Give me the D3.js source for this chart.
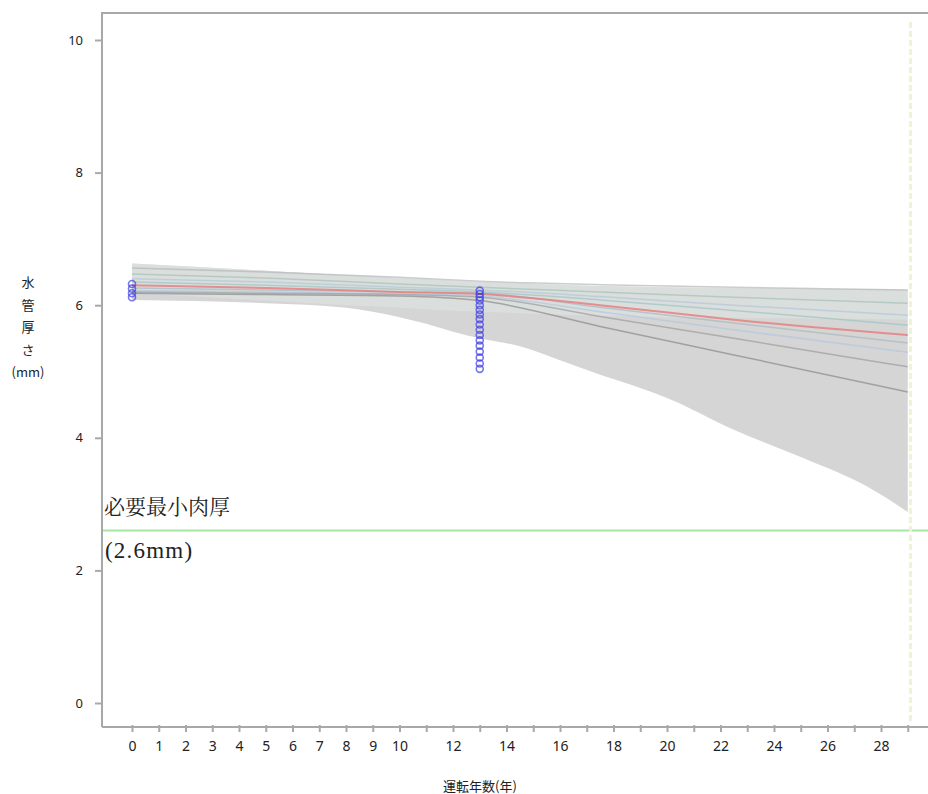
<!DOCTYPE html>
<html><head><meta charset="utf-8">
<script src="https://cdn.jsdelivr.net/npm/d3@7/dist/d3.min.js"></script>
<style>body{margin:0;background:#fff}svg{display:block}</style>
</head><body>
<svg id="c" width="928" height="794"></svg>
<script>
// ---- data ----
const xTickValues = d3.range(0, 30);
const xTickLabels = [0,1,2,3,4,5,6,7,8,9,10,12,14,16,18,20,22,24,26,28];
const yTickValues = [0,2,4,6,8,10];
const obsYear0 = 0;
const obsValues0 = [6.32, 6.25, 6.18, 6.12];
const obsYear13 = 13;
const obsValues13 = [6.22,6.17,6.12,6.07,6.0,5.93,5.86,5.79,5.71,5.63,5.55,5.47,5.39,5.3,5.21,5.12,5.04];
const bandYears = [0, 5, 8, 10, 11, 12, 13, 14.5, 16, 17.5, 19, 20, 22.5, 25, 27.5, 29];
const bandUpper = [6.63, 6.52, 6.45, 6.41, 6.39, 6.37, 6.35, 6.33, 6.31, 6.29, 6.28, 6.27, 6.26, 6.25, 6.24, 6.23];
const bandLower = [6.08, 6.03, 5.96, 5.82, 5.72, 5.6, 5.5, 5.38, 5.17, 4.95, 4.75, 4.6, 4.12, 3.71, 3.26, 2.88];
const lineYears = [0, 5, 10, 13, 17.5, 22.5, 29];
const medianLine = [6.3, 6.26, 6.2, 6.17, 6.0, 5.78, 5.55];
const fanLines = [
  {v:[6.56,6.5,6.42,6.36,6.31,6.27,6.23], c:"#b4b8b8"},
  {v:[6.47,6.41,6.32,6.27,6.2,6.12,6.03], c:"#a6c2b6"},
  {v:[6.4,6.35,6.27,6.23,6.13,6.0,5.85], c:"#b0c8d8"},
  {v:[6.35,6.3,6.24,6.2,6.08,5.92,5.70], c:"#9cc4c0"},
  {v:[6.26,6.23,6.2,6.18,5.97,5.73,5.43], c:"#a8b8c0"},
  {v:[6.22,6.2,6.17,6.14,5.9,5.63,5.29], c:"#b0c8e0"},
  {v:[6.2,6.18,6.16,6.12,5.83,5.5,5.07], c:"#9c9c9c"},
  {v:[6.18,6.16,6.14,6.07,5.68,5.25,4.69], c:"#8a8a8a"}
];
const minThickness = 2.6;
const yLabelChars = ["水","管","厚","さ","(mm)"];
const xTitle = "運転年数(年)";
const noteLine1 = "必要最小肉厚";
const noteLine2 = "(2.6mm)";

// ---- scales ----
const svg = d3.select("#c");
const x = d3.scaleLinear().domain([0, 28]).range([132, 881]);
const y = d3.scaleLinear().domain([0, 10]).range([703, 40]);
const axL = 102, axB = 727, axT = 13, axR = 928;

// band
const band = bandYears.map((t,i)=>({t, lo:bandLower[i], hi:bandUpper[i]}));
svg.append("path").datum(band)
  .attr("d", d3.area().x(d=>x(d.t)).y0(d=>y(d.lo)).y1(d=>y(d.hi)).curve(d3.curveMonotoneX))
  .attr("fill", "#d5d5d5");
svg.append("path").datum(band)
  .attr("d", d3.area().x(d=>x(d.t)).y0(d=>y(Math.max(d.lo, d.hi - 0.45))).y1(d=>y(d.hi)).curve(d3.curveMonotoneX))
  .attr("fill", "#dee4e2").attr("opacity", 0.6);

const lineGen = d3.line().x((d,i)=>x(lineYears[i])).y(d=>y(d)).curve(d3.curveMonotoneX);
fanLines.forEach(l=>{
  svg.append("path").datum(l.v).attr("d", lineGen)
    .attr("fill","none").attr("stroke", l.c).attr("stroke-width", 1.5).attr("opacity", 0.7);
});
svg.append("path").datum(medianLine).attr("d", lineGen)
  .attr("fill","none").attr("stroke", "#e58080").attr("stroke-width", 2).attr("opacity", 0.85);

// min thickness line
svg.append("line").attr("x1", axL).attr("x2", axR).attr("y1", y(minThickness)).attr("y2", y(minThickness))
  .attr("stroke", "#a8e6a4").attr("stroke-width", 2);

// right dotted line
svg.append("line").attr("x1", x(29.1)).attr("x2", x(29.1)).attr("y1", 22).attr("y2", 722)
  .attr("stroke", "#f0f2d4").attr("stroke-width", 3).attr("stroke-dasharray", "6,3");

// observations
function pts(year, vals){
  svg.append("g").selectAll("circle").data(vals).join("circle")
    .attr("cx", x(year)).attr("cy", d=>y(d)).attr("r", 3.5)
    .attr("fill", "none").attr("stroke", "#3c3ce6").attr("stroke-width", 1.6).attr("opacity", 0.7);
}
pts(obsYear0, obsValues0);
pts(obsYear13, obsValues13);

// axes frame
const frameCol = "#a8a8a8";
svg.append("line").attr("x1", axL).attr("x2", axR).attr("y1", axT).attr("y2", axT).attr("stroke", frameCol).attr("stroke-width", 2);
svg.append("line").attr("x1", axL).attr("x2", axL).attr("y1", axT-1).attr("y2", axB).attr("stroke", frameCol).attr("stroke-width", 2);
svg.append("line").attr("x1", axL).attr("x2", axR).attr("y1", axB).attr("y2", axB).attr("stroke", frameCol).attr("stroke-width", 2);

// x axis
const xAxis = d3.axisBottom(x).tickValues(xTickValues).tickSize(7).tickPadding(9)
  .tickFormat(d => xTickLabels.includes(d) ? d : "");
const gx = svg.append("g").attr("transform", `translate(0,${axB-2})`).call(xAxis);
gx.select(".domain").remove();
gx.selectAll(".tick line").attr("stroke", frameCol).attr("stroke-width", 2);
gx.selectAll(".tick text").attr("font-family", "'Noto Sans', sans-serif").attr("font-size", 14).attr("fill", "#222");

// y axis
const yAxis = d3.axisLeft(y).tickValues(yTickValues).tickSize(7).tickPadding(12);
const gy = svg.append("g").attr("transform", `translate(${axL},0)`).call(yAxis);
gy.select(".domain").remove();
gy.selectAll(".tick line").attr("stroke", frameCol).attr("stroke-width", 2);
gy.selectAll(".tick text").attr("font-family", "'Noto Sans', sans-serif").attr("font-size", 13).attr("fill", "#222");

// y label
svg.append("g").selectAll("text").data(yLabelChars).join("text")
  .attr("x", 28).attr("y", (d,i)=>287 + i*22.5).attr("text-anchor","middle")
  .attr("font-family", "'Noto Sans CJK JP', sans-serif").attr("font-size", 13).attr("fill", "#222")
  .text(d=>d);

// x title
svg.append("text").attr("x", 480).attr("y", 791).attr("text-anchor","middle")
  .attr("font-family", "'Noto Sans CJK JP', sans-serif").attr("font-size", 13).attr("fill", "#222")
  .text(xTitle);

// annotation
svg.append("text").attr("x", 104).attr("y", 514)
  .attr("font-family", "'Noto Serif CJK JP', 'Noto Sans CJK JP', serif").attr("font-size", 21).attr("fill", "#222")
  .text(noteLine1);
svg.append("text").attr("x", 105).attr("y", 558)
  .attr("font-family", "'Liberation Serif', serif").attr("font-size", 23).attr("letter-spacing", 1.2).attr("fill", "#222")
  .text(noteLine2);
</script>
</body></html>
